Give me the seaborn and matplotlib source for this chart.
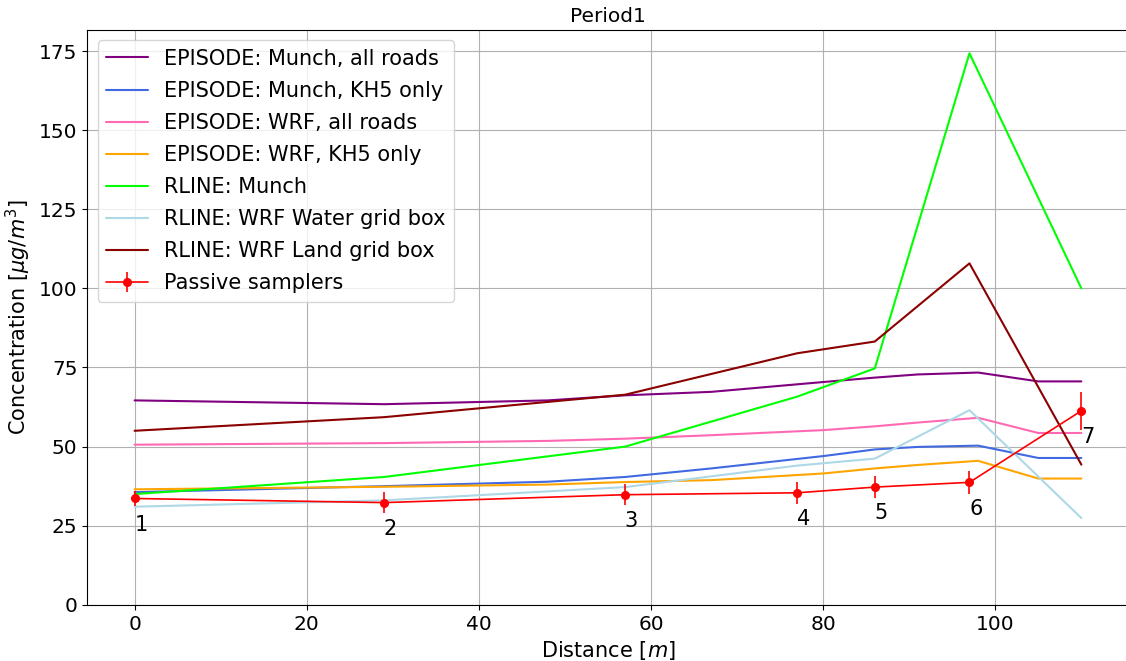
import numpy as np
import pandas as pd
import matplotlib
matplotlib.use("Agg")
import matplotlib.pyplot as plt
import seaborn as sns

# Receptor distances [m]
dist_samplers = [0, 29, 57, 77, 86, 97, 110]
dist_episode = [0, 29, 48, 57, 67, 80, 86, 91, 98, 105, 110]

# EPISODE model concentrations
episode_munch_all = [64.6, 63.4, 64.6, 66.2, 67.3, 70.4, 71.8, 72.8, 73.4, 70.6, 70.6]
episode_munch_kh5 = [35.6, 37.5, 38.9, 40.4, 43.1, 47.0, 49.1, 49.9, 50.3, 46.4, 46.4]
episode_wrf_all = [50.6, 51.1, 51.8, 52.5, 53.6, 55.2, 56.4, 57.6, 59.1, 54.3, 54.3]
episode_wrf_kh5 = [36.5, 37.3, 38.0, 38.8, 39.4, 41.5, 43.1, 44.2, 45.5, 39.9, 39.9]

# RLINE model concentrations
rline_munch = [35.0, 40.4, 50.0, 65.8, 74.7, 174.3, 100.0]
rline_wrf_water = [31.0, 33.0, 37.2, 44.0, 46.2, 61.5, 27.4]
rline_wrf_land = [55.0, 59.3, 66.4, 79.5, 83.2, 107.9, 44.3]

# Passive sampler measurements
sampler_conc = [33.6, 32.3, 34.8, 35.4, 37.2, 38.7, 61.3]
sampler_err = [2.3, 3.2, 3.3, 3.5, 3.6, 3.7, 6.0]
sampler_ids = ["1", "2", "3", "4", "5", "6", "7"]

series = [
    ("EPISODE: Munch, all roads", dist_episode, episode_munch_all, "purple"),
    ("EPISODE: Munch, KH5 only", dist_episode, episode_munch_kh5, "royalblue"),
    ("EPISODE: WRF, all roads", dist_episode, episode_wrf_all, "hotpink"),
    ("EPISODE: WRF, KH5 only", dist_episode, episode_wrf_kh5, "orange"),
    ("RLINE: Munch", dist_samplers, rline_munch, "lime"),
    ("RLINE: WRF Water grid box", dist_samplers, rline_wrf_water, "lightblue"),
    ("RLINE: WRF Land grid box", dist_samplers, rline_wrf_land, "darkred"),
]

frames = []
for name, xs, ys, _ in series:
    frames.append(pd.DataFrame({"Distance": xs, "Concentration": ys, "Model": name}))
df = pd.concat(frames, ignore_index=True)
palette = {name: color for name, _, _, color in series}

sns.set_style("ticks")
plt.rcParams.update({
    "font.size": 15,
    "font.family": ["DejaVu Sans"],
    "text.color": "black",
    "axes.labelcolor": "black",
    "xtick.color": "black",
    "ytick.color": "black",
    "axes.edgecolor": "black",
})

fig = plt.figure(figsize=(11.26, 6.61), dpi=100)
ax = fig.add_axes([0.0775, 0.085, 0.9249, 0.8696])

sns.lineplot(data=df, x="Distance", y="Concentration", hue="Model",
             palette=palette, hue_order=[s[0] for s in series],
             estimator=None, sort=False, linewidth=1.5, ax=ax)

ax.errorbar(dist_samplers, sampler_conc, yerr=sampler_err, fmt="-o",
            color="red", markersize=5.5, linewidth=1.2, elinewidth=1.2,
            label="Passive samplers")

for xd, yd, lab in zip(dist_samplers, sampler_conc, sampler_ids):
    ax.annotate(lab, (xd, yd), xytext=(4.5, -19), textcoords="offset points",
                ha="center", va="center", fontsize=15, color="black")

ax.set_ylim(bottom=0)
ax.set_yticks([0, 25, 50, 75, 100, 125, 150, 175])
ax.set_xticks([0, 20, 40, 60, 80, 100])
ax.grid(True, color="#b0b0b0", linewidth=0.8)
ax.tick_params(labelsize=14.5, colors="black")

ax.set_xlabel("Distance [$m$]", fontsize=15)
ax.set_ylabel("Concentration [$\\mu g/m^3$]", fontsize=15)
ax.set_title("Period1", fontsize=14.5)
ax.legend(loc="upper left", fontsize=15, framealpha=0.8, labelspacing=0.58)

fig.savefig("out.png", dpi=100)
